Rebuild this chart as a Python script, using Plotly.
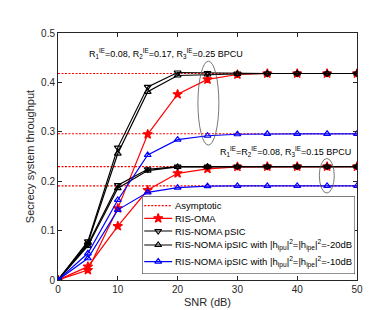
import plotly.graph_objects as go

snr = [0, 5, 10, 15, 20, 25, 30, 35, 40, 45, 50]

# High target-rate group (R1=0.08, R2=0.17, R3=0.25 BPCU)
hi_oma = [0, 0.020, 0.145, 0.295, 0.376, 0.406, 0.416, 0.418, 0.418, 0.418, 0.418]
hi_psic = [0, 0.078, 0.268, 0.391, 0.420, 0.419, 0.418, 0.418, 0.418, 0.418, 0.418]
hi_ipsic20 = [0, 0.075, 0.256, 0.381, 0.414, 0.416, 0.417, 0.418, 0.418, 0.418, 0.418]
hi_ipsic10 = [0, 0.054, 0.162, 0.253, 0.284, 0.292, 0.295, 0.296, 0.296, 0.296, 0.296]
hi_asym = [0.418, 0.296]

# Low target-rate group (R1=R2=0.08, R3=0.15 BPCU)
lo_oma = [0, 0.027, 0.109, 0.182, 0.216, 0.225, 0.229, 0.2295, 0.2295, 0.2295, 0.2295]
lo_psic = [0, 0.072, 0.192, 0.224, 0.2295, 0.2295, 0.2295, 0.2295, 0.2295, 0.2295, 0.2295]
lo_ipsic20 = [0, 0.069, 0.186, 0.2215, 0.229, 0.2295, 0.2295, 0.2295, 0.2295, 0.2295, 0.2295]
lo_ipsic10 = [0, 0.044, 0.142, 0.1775, 0.187, 0.190, 0.1905, 0.1905, 0.1905, 0.1905, 0.1905]
lo_asym = [0.2295, 0.1905]

x_range = [0, 50]

legend_names = [
    "Asymptotic",
    "RIS-OMA",
    "RIS-NOMA pSIC",
    "RIS-NOMA ipSIC with |h<sub>ipu</sub>|<sup>2</sup>=|h<sub>ipe</sub>|<sup>2</sup>=-20dB",
    "RIS-NOMA ipSIC with |h<sub>ipu</sub>|<sup>2</sup>=|h<sub>ipe</sub>|<sup>2</sup>=-10dB",
]

FONT = "Liberation Sans, Arial, sans-serif"
RED, BLACK, BLUE = "#ff0000", "#000000", "#0000ff"
ASYM_DASH = "2px,1.5px"

fig = go.Figure()

# Asymptotic lines
for v in hi_asym + lo_asym:
    fig.add_trace(go.Scatter(x=x_range, y=[v, v], mode="lines",
                             line=dict(color=RED, width=1.1, dash=ASYM_DASH),
                             showlegend=False, hoverinfo="skip"))

styles = [
    (hi_oma, lo_oma, RED, "star", 7),
    (hi_psic, lo_psic, BLACK, "triangle-down-open", 6),
    (hi_ipsic20, lo_ipsic20, BLACK, "triangle-up-open", 6),
    (hi_ipsic10, lo_ipsic10, BLUE, "triangle-up-open", 6),
]
for hi, lo, col, sym, sz in styles:
    for data in (hi, lo):
        fig.add_trace(go.Scatter(x=snr, y=data, mode="lines+markers",
                                 line=dict(color=col, width=1.2),
                                 marker=dict(symbol=sym, size=sz, color=col,
                                             line=dict(color=col, width=1.2)),
                                 showlegend=False))

# Ellipses
fig.add_shape(type="circle", xref="x", yref="y", x0=23.4, x1=26.9, y0=0.273, y1=0.443,
              line=dict(color="#555555", width=0.8))
fig.add_shape(type="circle", xref="x", yref="y", x0=43.7, x1=46.2, y0=0.176, y1=0.246,
              line=dict(color="#555555", width=0.8))

fig.add_annotation(x=18.0, y=0.459, xref="x", yref="y", showarrow=False,
                   text="R<sub>1</sub><sup>IE</sup>=0.08, R<sub>2</sub><sup>IE</sup>=0.17, R<sub>3</sub><sup>IE</sup>=0.25 BPCU",
                   font=dict(family=FONT, size=9, color=BLACK))
fig.add_annotation(x=38.1, y=0.2605, xref="x", yref="y", showarrow=False,
                   text="R<sub>1</sub><sup>IE</sup>=R<sub>2</sub><sup>IE</sup>=0.08, R<sub>3</sub><sup>IE</sup>=0.15 BPCU",
                   font=dict(family=FONT, size=9, color=BLACK))

# ---- Manual compact legend drawn in its own small subplot (pixel-like units) ----
LW, LH = 213, 77.7
rows = [9.3, 22.0, 34.7, 48.7, 65.3]
leg_styles = [
    (RED, None, ASYM_DASH),
    (RED, "star", "solid"),
    (BLACK, "triangle-down-open", "solid"),
    (BLACK, "triangle-up-open", "solid"),
    (BLUE, "triangle-up-open", "solid"),
]
fig.add_trace(go.Scatter(x=[0, LW, LW, 0, 0], y=[0, 0, LH, LH, 0], xaxis="x2", yaxis="y2",
                         mode="lines", fill="toself", fillcolor="white",
                         line=dict(color="#262626", width=1), showlegend=False,
                         hoverinfo="skip"))
for (col, sym, dash), ry, name in zip(leg_styles, rows, legend_names):
    fig.add_trace(go.Scatter(x=[2, 30], y=[ry, ry], xaxis="x2", yaxis="y2", mode="lines",
                             line=dict(color=col, width=1.2, dash=dash),
                             showlegend=False, hoverinfo="skip"))
    if sym:
        fig.add_trace(go.Scatter(x=[16], y=[ry], xaxis="x2", yaxis="y2", mode="markers",
                                 marker=dict(symbol=sym, size=7 if sym == "star" else 6,
                                             color=col, line=dict(color=col, width=1.2)),
                                 showlegend=False, hoverinfo="skip"))
    fig.add_annotation(x=31, y=ry, xref="x2", yref="y2", text=name, showarrow=False,
                       xanchor="left", yanchor="middle",
                       font=dict(family=FONT, size=9.5, color=BLACK))

axis_common = dict(showline=True, linecolor="#262626", linewidth=1, mirror="ticks",
                   ticks="inside", ticklen=4, tickcolor="#262626", showgrid=False,
                   zeroline=False, tickfont=dict(size=10, color="#262626"))

x0p, x1p = 49.7, 349.0
y0p, y1p = 271.7, 24.7
fig.update_layout(
    width=385, height=310,
    margin=dict(l=50, r=36, t=25, b=38),
    paper_bgcolor="white", plot_bgcolor="white",
    font=dict(family=FONT, color="#262626"),
    xaxis=dict(range=[0, 50], tickvals=[0, 10, 20, 30, 40, 50], domain=[0, 1],
               title=dict(text="SNR (dB)", font=dict(size=11), standoff=4), **axis_common),
    yaxis=dict(range=[0, 0.5], tickvals=[0, 0.1, 0.2, 0.3, 0.4, 0.5], domain=[0, 1],
               ticktext=["0", "0.1", "0.2", "0.3", "0.4", "0.5"],
               title=dict(text="Secrecy system throughput", font=dict(size=11), standoff=4),
               **axis_common),
    xaxis2=dict(domain=[(134 - x0p) / (x1p - x0p), (347 - x0p) / (x1p - x0p)],
                range=[0, LW], anchor="y2", visible=False, fixedrange=True),
    yaxis2=dict(domain=[(y0p - 265.7) / (y0p - y1p), (y0p - 188) / (y0p - y1p)],
                range=[LH, 0], anchor="x2", visible=False, fixedrange=True),
    showlegend=False,
)

fig.write_html("out.html")
